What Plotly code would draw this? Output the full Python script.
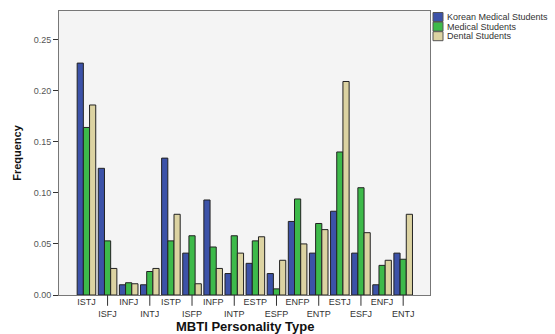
import plotly.graph_objects as go

types = ["ISTJ", "ISFJ", "INFJ", "INTJ", "ISTP", "ISFP", "INFP", "INTP",
         "ESTP", "ESFP", "ENFP", "ENTP", "ESTJ", "ESFJ", "ENFJ", "ENTJ"]
korean = [0.227, 0.124, 0.010, 0.010, 0.134, 0.041, 0.093, 0.021,
          0.031, 0.021, 0.072, 0.041, 0.082, 0.041, 0.010, 0.041]
medical = [0.164, 0.053, 0.012, 0.023, 0.053, 0.058, 0.047, 0.058,
           0.053, 0.006, 0.094, 0.070, 0.140, 0.105, 0.029, 0.035]
dental = [0.186, 0.026, 0.011, 0.026, 0.079, 0.011, 0.026, 0.041,
          0.057, 0.034, 0.050, 0.064, 0.209, 0.061, 0.034, 0.079]
series_names = ["Korean Medical Students", "Medical Students", "Dental Students"]
colors = ["#3c52a8", "#3dba4a", "#dcd3a2"]

fig = go.Figure()
for name, vals, col in zip(series_names, [korean, medical, dental], colors):
    fig.add_trace(go.Bar(x=types, y=vals, name=name, showlegend=False,
                         marker=dict(color=col, line=dict(color="#222222", width=1))))

ticktext = [t if i % 2 == 0 else "<br>" + t for i, t in enumerate(types)]

for i, t in enumerate(types):
    if i % 2 == 1:
        fig.add_shape(type="line", xref="x", yref="paper", x0=t, x1=t,
                      y0=0, y1=-0.038, line=dict(color="#333333", width=1))

pw = 555 - 59 - 125
ph = 334 - 11 - 39

# custom compact legend (outside the plot area, right side)
for k, (name, col) in enumerate(zip(series_names, colors)):
    yc = 17 + k * 9.6
    y0 = (334 - 39 - (yc + 4.5)) / ph
    y1 = (334 - 39 - (yc - 4.5)) / ph
    x0 = (433 - 59) / pw
    x1 = (443 - 59) / pw
    fig.add_shape(type="rect", xref="paper", yref="paper", x0=x0, x1=x1, y0=y0, y1=y1,
                  fillcolor=col, line=dict(color="#555555", width=1))
    fig.add_annotation(xref="paper", yref="paper", x=(445 - 59) / pw, y=(y0 + y1) / 2,
                       xanchor="left", yanchor="middle", text=name, showarrow=False,
                       font=dict(size=9, color="#333333"))

# x axis title
fig.add_annotation(xref="paper", yref="paper", x=0.5, y=(295 - 326) / ph,
                   xanchor="center", yanchor="middle", showarrow=False,
                   text="<b>MBTI Personality Type</b>", font=dict(size=13, color="#111111"))

fig.update_layout(
    width=555, height=334,
    margin=dict(l=59, r=125, t=11, b=39),
    paper_bgcolor="white", plot_bgcolor="#f4f4f4",
    barmode="group", bargap=0.12, bargroupgap=0,
    font=dict(family="Liberation Sans, Arial, sans-serif", size=9, color="#333333"),
    showlegend=False,
)
fig.update_xaxes(
    type="category", range=[-1.3, 16.27],
    tickmode="array", tickvals=types, ticktext=ticktext, tickangle=0,
    ticks="", ticklabelstandoff=-2,
    showline=True, linecolor="#777777", linewidth=1, mirror=True,
    showgrid=False, automargin=False,
)
fig.update_yaxes(
    range=[0, 0.278], tickvals=[0, 0.05, 0.10, 0.15, 0.20, 0.25], tickformat=".2f",
    ticks="outside", ticklen=5, tickcolor="#333333", tickfont=dict(color="#555555"),
    showline=True, linecolor="#777777", linewidth=1, mirror=True,
    showgrid=False, zeroline=False, automargin=False,
    title=dict(text="<b>Frequency</b>", font=dict(size=11, color="#111111"), standoff=9),
)

fig.write_html("out.html", config={"displayModeBar": False},
               post_script="document.body.style.margin='0px';")
